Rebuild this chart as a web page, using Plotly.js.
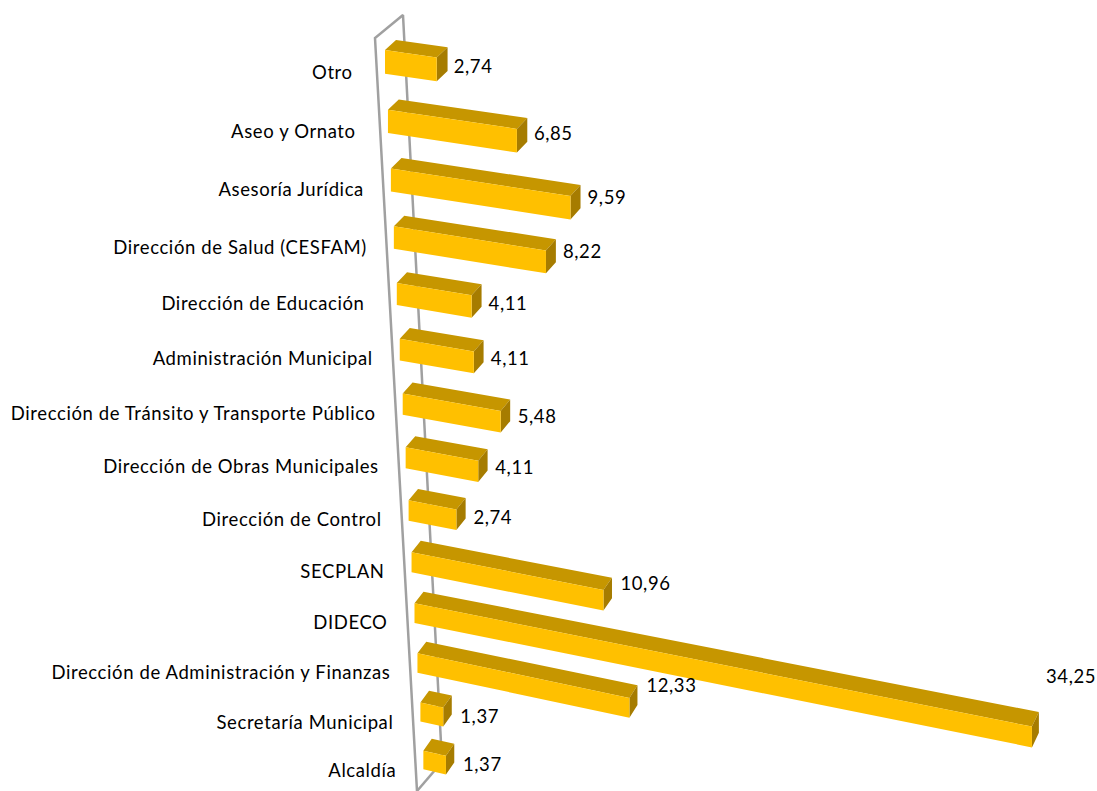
<!DOCTYPE html>
<html><head><meta charset="utf-8">
<script src="https://cdn.plot.ly/plotly-3.0.1.min.js"></script>
<style>html,body{margin:0;padding:0;background:#fff} .textpoint text{letter-spacing:.6px}</style></head>
<body><div id="chart" style="width:1097px;height:791px"></div>
<script>
const categories = ["Otro\u00a0","Aseo y Ornato\u00a0","Asesoría Jurídica","Dirección de Salud (CESFAM)","Dirección de Educación\u00a0","Administración Municipal","Dirección de Tránsito y Transporte Público","Dirección de Obras Municipales","Dirección de Control","SECPLAN","DIDECO","Dirección de Administración y Finanzas","Secretaría Municipal","Alcaldía"];
const values = [2.74,6.85,9.59,8.22,4.11,4.11,5.48,4.11,2.74,10.96,34.25,12.33,1.37,1.37];
const labelNudgeY = [3,4,4,2,4,3,4,3,3,-1,-14,-4,3,3];

// Oblique projection of (row, value, depth, height) onto the page
const rowX = r => 385 + 2.95*r;
const rowY = r => 50 + 60.2*r - 0.5*r*r + 0.0012*r*r*r;
const unitX = (r,v) => 18.8 - 0.18*r + 0.03*v;
const unitY = (r,v) => 2.7 + 0.08*r + 0.003*v;
const faceH = (r,v) => 23.8 - 0.4*r + 0.03*v;
const depthX = (r,v) => 11 - 0.2*r - 0.06*v;
const depthY = (r,v) => -10 - 0.15*r - 0.09*v;
function P(r,v,front,low){
  let x = rowX(r) + unitX(r,v)*v, y = rowY(r) + unitY(r,v)*v;
  if(!front){ x += depthX(r,v); y += depthY(r,v); }
  if(low) y += faceH(r,v);
  return [x,y];
}
function poly(pts, xs, ys){ pts.forEach(p=>{xs.push(p[0]);ys.push(p[1]);}); xs.push(pts[0][0],null); ys.push(pts[0][1],null); }

const F={x:[],y:[]},T={x:[],y:[]},S={x:[],y:[]};
const lblX=[],lblY=[],catX=[],catY=[];
values.forEach((v,r)=>{
  poly([P(r,0,1,0),P(r,v,1,0),P(r,v,1,1),P(r,0,1,1)],F.x,F.y);
  poly([P(r,0,1,0),P(r,0,0,0),P(r,v,0,0),P(r,v,1,0)],T.x,T.y);
  poly([P(r,v,1,0),P(r,v,0,0),P(r,v,0,1),P(r,v,1,1)],S.x,S.y);
  const e=P(r,v,1,0), h=faceH(r,v);
  lblX.push(Math.min(e[0]+17,1046)); lblY.push(e[1]+h/2-1.3*v+labelNudgeY[r]);
  catX.push(rowX(r)-27); catY.push(rowY(r)+21.5+Math.max(0,2.5-0.4*r));
});
const face=(d,c)=>({x:d.x,y:d.y,mode:'lines',fill:'toself',fillcolor:c,line:{width:0,color:c},hoverinfo:'skip',showlegend:false});
const font={family:'Lato, Carlito, sans-serif',size:18.5,color:'#000'};
const wall={x:[417,375,403,442],y:[791,38,15,762],mode:'lines',line:{color:'#A0A0A0',width:2.5},hoverinfo:'skip',showlegend:false};
const wallFoot={x:[417,442],y:[791,762],mode:'lines',line:{color:'#A0A0A0',width:2.5},hoverinfo:'skip',showlegend:false};
const data=[wall,wallFoot,face(T,'#C69600'),face(S,'#A67C00'),face(F,'#FFC000'),
 {x:catX,y:catY,text:categories,mode:'text',textposition:'middle left',textfont:font,cliponaxis:false,hoverinfo:'skip',showlegend:false},
 {x:lblX,y:lblY,text:values.map(v=>v.toFixed(2).replace('.',',')),mode:'text',textposition:'middle right',textfont:font,cliponaxis:false,hoverinfo:'skip',showlegend:false}];
Plotly.newPlot('chart',data,{width:1097,height:791,margin:{l:0,r:0,t:0,b:0,pad:0},paper_bgcolor:'#fff',plot_bgcolor:'#fff',showlegend:false,
 xaxis:{range:[0,1097],visible:false,fixedrange:true},yaxis:{range:[791,0],visible:false,fixedrange:true}},{displayModeBar:false,staticPlot:true});
</script></body></html>
